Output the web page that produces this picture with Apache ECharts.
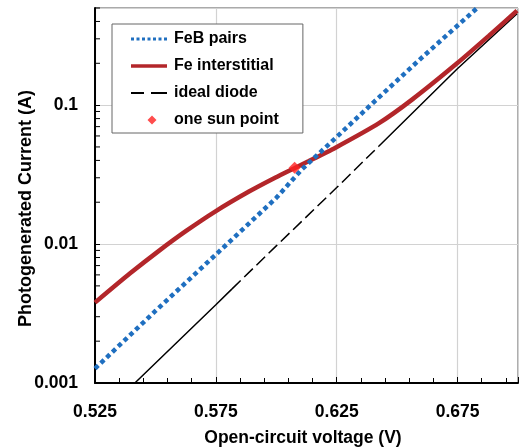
<!DOCTYPE html>
<html>
<head>
<meta charset="utf-8">
<script src="https://cdn.jsdelivr.net/npm/echarts@6/dist/echarts.min.js"></script>
<style>
html, body { margin: 0; padding: 0; background: #fff; }
#chart { width: 519px; height: 447px; }
</style>
</head>
<body>
<div id="chart"></div>
<script>
// values (voltage in V, current in A)
var febVoltage = [0.525, 0.550, 0.575, 0.600, 0.6106, 0.625, 0.639, 0.660, 0.6831];
var febCurrent = [0.00127, 0.0033, 0.0084, 0.0215, 0.0345, 0.059, 0.100, 0.218, 0.5];

var feVoltage = [0.525, 0.5394, 0.5517, 0.5627, 0.5747, 0.5887, 0.5997, 0.6079, 0.6133, 0.6243, 0.6425, 0.6563, 0.6748, 0.6879, 0.6996];
var feCurrent = [0.00379, 0.00613, 0.00901, 0.01243, 0.01713, 0.02386, 0.03013, 0.03544, 0.0394, 0.0492, 0.0742, 0.110, 0.200, 0.315, 0.479];

var diodeVoltage = [0.5415, 0.5749, 0.5817, 0.600, 0.625, 0.6425, 0.6748, 0.6996];
var diodeCurrent = [0.001, 0.00364, 0.00476, 0.0097, 0.0255, 0.0508, 0.182, 0.455];
var diodeDashFrom = 2, diodeDashTo = 5; // index range drawn dashed

var sunVoltage = [0.6076];
var sunCurrent = [0.0354];

var xMin = 0.525, xMax = 0.7, xStep = 0.05;
var yMin = 0.001, yMax = 0.5;
var yMinorTicks = [0.002, 0.003, 0.004, 0.005, 0.006, 0.007, 0.008, 0.009,
                   0.02, 0.03, 0.04, 0.05, 0.06, 0.07, 0.08, 0.09,
                   0.2, 0.3, 0.4, 0.5];

var font = "'Liberation Sans', Arial, sans-serif";
var blue = '#1f6fc0', red = '#b3262a';

function pairs(xs, ys, from, to) {
    var out = [];
    for (var i = (from || 0); i <= (to === undefined ? xs.length - 1 : to); i++) out.push([xs[i], ys[i]]);
    return out;
}

// legend swatches (drawn as filled paths, 36 wide)
var dotIcon = 'path://M0,0h3v3h-3z M5.5,0h3v3h-3z M11,0h3v3h-3z M16.5,0h3v3h-3z M22,0h3v3h-3z M27.5,0h3v3h-3z M33,0h3v3h-3z';
var solidIcon = 'path://M0,0h36v3.4h-36z';
var dashIcon = 'path://M0,0h13v1.8h-13z M20,0h16v1.8h-16z';
var diamondIcon = 'path://M21,0.5L25.5,5L21,9.5L16.5,5Z M0,5h0.01v0.01h-0.01z M35.99,5h0.01v0.01h-0.01z M0,0h0.01v0.01h-0.01z M0,9.99h0.01v0.01h-0.01z';

var myChart = echarts.init(document.getElementById('chart'), null, { renderer: 'canvas' });

var option = {
    backgroundColor: '#fff',
    animation: false,
    textStyle: { fontFamily: font },
    grid: {
        left: 95, right: 1, top: 8, bottom: 64,
        outerBoundsMode: 'none', containLabel: false,
        show: true, borderColor: '#555', borderWidth: 1
    },
    legend: {
        orient: 'vertical',
        left: 112, top: 24,
        padding: [7, 24, 5, 19],
        itemWidth: 36, itemHeight: 10, itemGap: 11,
        backgroundColor: '#fff',
        borderColor: '#666', borderWidth: 1,
        textStyle: { fontFamily: font, fontSize: 16, fontWeight: 'bold', color: '#000', padding: [0, 0, 0, 2] },
        data: [
            { name: 'FeB pairs', icon: dotIcon, itemStyle: { color: blue } },
            { name: 'Fe interstitial', icon: solidIcon, itemStyle: { color: red } },
            { name: 'ideal diode', icon: dashIcon, itemStyle: { color: '#000' } },
            { name: 'one sun point', icon: diamondIcon, itemStyle: { color: '#ff2020' } }
        ]
    },
    xAxis: {
        type: 'value', min: xMin, max: xMax, interval: xStep,
        name: 'Open-circuit voltage (V)', nameLocation: 'middle', nameGap: 46, nameMoveOverlap: false,
        nameTextStyle: { fontFamily: font, fontSize: 17.5, fontWeight: 'bold', color: '#000', padding: [0, 7, 0, 0] },
        axisLine: { show: true, onZero: false, lineStyle: { color: '#000', width: 2 } },
        axisTick: { show: true, inside: true, length: 6, lineStyle: { color: '#000' } },
        minorTick: { show: true, splitNumber: 5, length: 5, lineStyle: { color: '#000' } },
        axisLabel: {
            margin: 20, fontFamily: font, fontSize: 17.5, fontWeight: 'bold', color: '#000',
            showMaxLabel: false,
            formatter: function (v) { return v.toFixed(3); }
        },
        splitLine: { show: true, lineStyle: { color: '#d2d2d2', width: 1.2 } }
    },
    yAxis: {
        type: 'log', logBase: 10, min: yMin, max: yMax,
        name: 'Photogenerated Current (A)', nameLocation: 'middle', nameGap: 60, nameMoveOverlap: false,
        nameTextStyle: { fontFamily: font, fontSize: 18, fontWeight: 'bold', color: '#000', padding: [0, 26, 0, 0] },
        axisLine: { show: true, lineStyle: { color: '#000', width: 2 } },
        axisTick: { show: true, inside: true, length: 5, lineStyle: { color: '#000' } },
        axisLabel: {
            margin: 17, fontFamily: font, fontSize: 17.5, fontWeight: 'bold', color: '#000',
            showMaxLabel: false,
            formatter: function (v) { return String(+v.toPrecision(3)); }
        },
        splitLine: { show: true, lineStyle: { color: '#d2d2d2', width: 1.2 } }
    },
    series: [
        {
            name: 'yMinor', type: 'custom', silent: true, clip: false, z: 1,
            data: yMinorTicks.map(function (v) { return [xMin, v]; }),
            renderItem: function (params, api) {
                var p = api.coord([api.value(0), api.value(1)]);
                return {
                    type: 'line',
                    shape: { x1: p[0], y1: p[1], x2: p[0] + 5, y2: p[1] },
                    style: { stroke: '#000', lineWidth: 1 }
                };
            }
        },
        {
            name: 'ideal diode low', type: 'line', showSymbol: false, symbol: 'none',
            lineStyle: { color: '#000', width: 1.5 },
            itemStyle: { color: '#000' },
            data: pairs(diodeVoltage, diodeCurrent, 0, diodeDashFrom)
        },
        {
            name: 'ideal diode', type: 'line', showSymbol: false, symbol: 'none',
            lineStyle: { color: '#000', width: 1.5, type: [12, 5] },
            itemStyle: { color: '#000' },
            data: pairs(diodeVoltage, diodeCurrent, diodeDashFrom, diodeDashTo)
        },
        {
            name: 'ideal diode high', type: 'line', showSymbol: false, symbol: 'none',
            lineStyle: { color: '#000', width: 1.5 },
            itemStyle: { color: '#000' },
            data: pairs(diodeVoltage, diodeCurrent, diodeDashTo)
        },
        {
            name: 'Fe interstitial', type: 'line', showSymbol: false, symbol: 'none', smooth: 0.2,
            lineStyle: { color: red, width: 4.5 },
            itemStyle: { color: red },
            data: pairs(feVoltage, feCurrent)
        },
        {
            name: 'FeB pairs', type: 'line', showSymbol: false, symbol: 'none',
            lineStyle: { color: blue, width: 4.5, type: [4.5, 3.5] },
            itemStyle: { color: blue },
            data: pairs(febVoltage, febCurrent)
        },
        {
            name: 'one sun point', type: 'scatter', symbol: 'diamond', symbolSize: 12, z: 5,
            itemStyle: { color: '#ff2020' },
            data: pairs(sunVoltage, sunCurrent)
        }
    ]
};

myChart.setOption(option);
window.addEventListener('resize', myChart.resize);
</script>
</body>
</html>
